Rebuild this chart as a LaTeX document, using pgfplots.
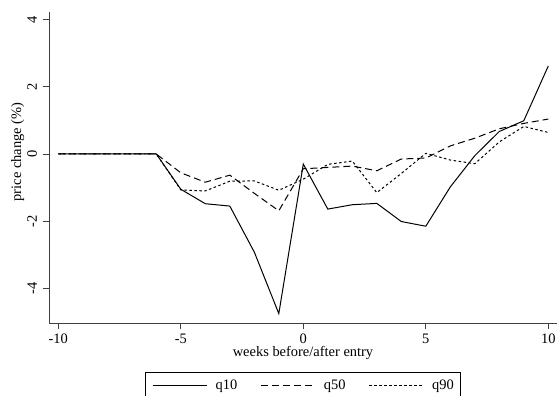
\documentclass[border=0pt]{standalone}
\usepackage{fontspec}
\setmainfont{Liberation Serif}
\usepackage{pgfplots}
\pgfplotsset{compat=1.18}
\pgfplotstableread{
x q10 q50 q90
-10 0 0 0
-9 0 0 0
-8 0 0 0
-7 0 0 0
-6 0 0 0
-5 -1.05 -0.56 -1.07
-4 -1.48 -0.84 -1.10
-3 -1.55 -0.63 -0.81
-2 -2.92 -1.17 -0.80
-1 -4.75 -1.69 -1.08
0 -0.30 -0.44 -0.75
1 -1.64 -0.40 -0.31
2 -1.51 -0.36 -0.21
3 -1.47 -0.50 -1.15
4 -2.01 -0.15 -0.58
5 -2.15 -0.12 0.02
6 -0.98 0.24 -0.18
7 -0.05 0.47 -0.29
8 0.67 0.75 0.36
9 0.99 0.91 0.82
10 2.62 1.04 0.64
}\datatable
\begin{document}
\begin{tikzpicture}
\begin{axis}[
  scale only axis,
  width=508bp, height=311bp,
  xmin=-10.38, xmax=10.355,
  ymin=-5.03, ymax=4.226,
  axis x line*=bottom, axis y line*=left,
  axis line style={black!75, line width=0.9bp, -},
  tick style={black!75, line width=0.9bp},
  tick align=outside,
  major tick length=6bp,
  font=\fontsize{14.5}{17}\selectfont,
  xtick={-10,-5,0,5,10},
  xticklabels={-10,-5,0,5,10},
  ytick={-4,-2,0,2,4},
  yticklabels={-4,-2,0,2,4},
  xticklabel style={anchor=base, inner sep=0pt, yshift=-14bp},
  yticklabel style={xshift=-6bp, rotate=90, anchor=base, inner sep=0pt},
  xlabel={weeks before/after entry},
  ylabel={price change (\%)},
  xlabel style={at={(axis description cs:0.5,-0.1093)}, anchor=base, inner sep=0pt},
  ylabel style={at={(axis description cs:-0.0551,0.55)}, anchor=base, inner sep=0pt},
  legend columns=3,
  legend style={at={(axis description cs:0.5,-0.1566)}, anchor=north,
    draw=black, line width=0.8bp, inner xsep=7bp, inner ysep=8bp,
    nodes={inner sep=0pt, font=\fontsize{14.5}{17}\selectfont},
    column sep=0pt,
    /tikz/every odd column/.append style={column sep=8.5bp},
    /tikz/every even column/.append style={column sep=23bp}},
  legend image code/.code={\draw[#1] (0bp,0bp) -- (54bp,0bp);},
]
\addplot[black, line width=1bp] table[x=x, y=q10] {\datatable};
\addlegendentry{q10}
\addplot[black, line width=1bp, dash pattern=on 7bp off 4bp] table[x=x, y=q50] {\datatable};
\addlegendentry{q50}
\addplot[black, line width=1bp, dash pattern=on 2.5bp off 2.5bp] table[x=x, y=q90] {\datatable};
\addlegendentry{q90}
\coordinate (sw) at (rel axis cs:0,0);
\end{axis}
\pgfresetboundingbox
\path[use as bounding box] ([shift={(-49bp,-73bp)}]sw) rectangle ([shift={(508bp,323bp)}]sw);
\end{tikzpicture}
\end{document}
